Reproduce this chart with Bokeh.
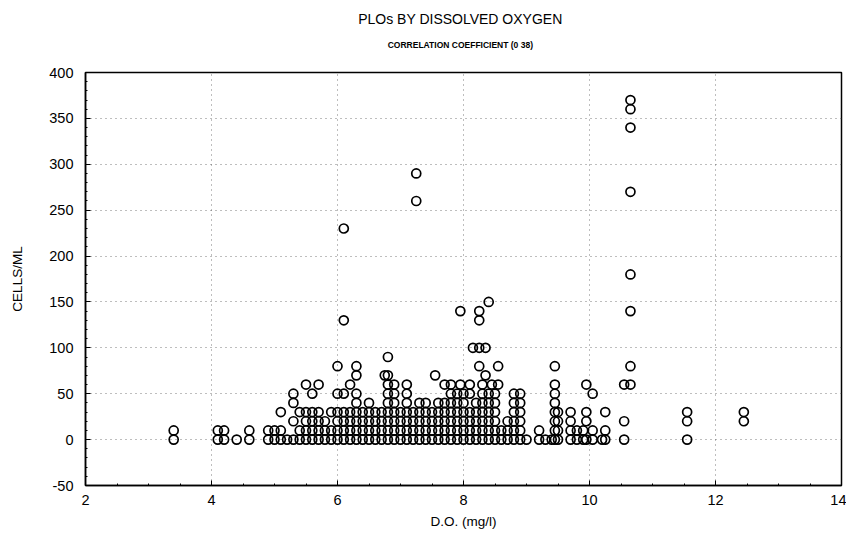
from bokeh.plotting import figure
from bokeh.models import FixedTicker, Range1d
from bokeh.layouts import column
from bokeh.core.properties import value
from bokeh.embed import file_html
from bokeh.resources import INLINE

# D.O. (mg/l) column positions and the CELLS/ML values observed at each
do_columns = [3.4, 4.1, 4.2, 4.4, 4.6, 4.9, 5.0, 5.1, 5.2, 5.3, 5.4, 5.5, 5.6, 5.7, 5.8, 5.9,
              6.0, 6.1, 6.2, 6.3, 6.4, 6.5, 6.6, 6.7, 6.75, 6.8, 6.9, 7.0, 7.1, 7.2, 7.25,
              7.3, 7.4, 7.5, 7.55, 7.6, 7.7, 7.8, 7.9, 7.95, 8.0, 8.1, 8.15, 8.2, 8.25,
              8.3, 8.35, 8.4, 8.45, 8.5, 8.55, 8.6, 8.7, 8.8, 8.9, 9.0, 9.2, 9.3, 9.4,
              9.45, 9.5, 9.7, 9.8, 9.9, 9.95, 10.05, 10.2, 10.25, 10.55, 10.65, 11.55, 12.45]
cells_by_column = [
    [0, 10], [0, 10], [0, 10], [0], [0, 10], [0, 10], [0, 10], [0, 10, 30], [0],
    [0, 20, 40, 50], [0, 10, 30], [0, 10, 20, 30, 60], [0, 10, 20, 30, 50],
    [0, 10, 20, 30, 60], [0, 10, 20], [0, 10, 30],
    [0, 10, 20, 30, 50, 80], [0, 10, 20, 30, 50, 130, 230], [0, 10, 20, 30, 60],
    [0, 10, 20, 30, 40, 50, 70, 80], [0, 10, 20, 30], [0, 10, 20, 30, 40], [0, 10, 20, 30],
    [0, 10, 20, 30], [70], [0, 10, 20, 30, 40, 50, 60, 70, 90], [0, 10, 20, 30, 40, 50, 60],
    [0, 10, 20, 30], [0, 10, 20, 30, 40, 50, 60], [0, 10, 20, 30], [260, 290],
    [0, 10, 20, 30, 40], [0, 10, 20, 30, 40], [0, 10, 20, 30], [70], [0, 10, 20, 30, 40],
    [0, 10, 20, 30, 40, 60], [0, 10, 20, 30, 40, 50, 60], [0, 10, 20, 30, 40, 50], [60, 140],
    [0, 10, 20, 30, 40, 50], [0, 10, 20, 30, 50, 60], [100], [0, 10, 20, 30, 40],
    [80, 100, 130, 140], [0, 10, 20, 30, 40, 50, 60], [70, 100], [0, 10, 20, 30, 40, 50, 150],
    [60], [0, 10, 20, 30, 40, 50], [60, 80], [0, 10], [0, 10, 20], [0, 10, 20, 30, 40, 50],
    [0, 10, 20, 30, 40, 50], [0], [0, 10], [0], [0],
    [0, 10, 20, 30, 40, 50, 60, 80], [0, 10, 20, 30], [0, 10, 20, 30], [0, 10], [0, 10],
    [0, 20, 30, 60], [0, 10, 50], [0], [0, 10, 30], [0, 20, 60],
    [60, 80, 140, 180, 270, 340, 360, 370], [0, 20, 30], [20, 30]]

x_ticks = [2, 4, 6, 8, 10, 12, 14]
y_ticks = [-50, 0, 50, 100, 150, 200, 250, 300, 350, 400]
y_tick_labels = ["-50", "0", "50", "100", "150", "200", "250", "300", "350", "400"]

title_text = "PLOs BY DISSOLVED OXYGEN"
subtitle_text = "CORRELATION COEFFICIENT (0 38)"
x_label = "D.O. (mg/l)"
y_label = "CELLS/ML"

xs, ys = [], []
for x, col in zip(do_columns, cells_by_column):
    for y in col:
        xs.append(x)
        ys.append(y)

FONT = "Liberation Sans"
W = 846
BORDER_L, BORDER_R = 85, 5
HEAD_H = 66

# ---- heading strip (title + subtitle), sharing the plot's horizontal frame ----
head = figure(width=W, height=HEAD_H, output_backend="svg", toolbar_location=None,
              x_range=Range1d(2, 14), y_range=Range1d(0, HEAD_H),
              x_axis_location=None, y_axis_location=None,
              min_border_left=BORDER_L, min_border_right=BORDER_R,
              min_border_top=0, min_border_bottom=0, outline_line_color=None,
              background_fill_color="white", border_fill_color="white")
head.grid.visible = False
cx = 7.95
head.text(x=[cx], y=[HEAD_H - 18], text=[title_text], text_align="center",
          text_baseline="middle", text_font=value(FONT), text_font_size="14px",
          text_color="black")
head.text(x=[cx], y=[HEAD_H - 44], text=[subtitle_text], text_align="center",
          text_baseline="middle", text_font=value(FONT), text_font_size="8.5px",
          text_font_style="bold", text_color="black")

# ---- scatter plot ----
p = figure(width=W, height=474, output_backend="svg", toolbar_location=None,
           x_range=Range1d(2, 14), y_range=Range1d(-50, 400),
           min_border_left=BORDER_L, min_border_right=BORDER_R,
           min_border_bottom=55, min_border_top=6,
           background_fill_color="white", border_fill_color="white")

p.scatter(xs, ys, marker="circle", size=9, fill_color=None, line_color="black", line_width=1.7)

p.xaxis.ticker = FixedTicker(ticks=x_ticks, minor_ticks=[v / 2 for v in range(4, 29)])
p.yaxis.ticker = FixedTicker(ticks=y_ticks, minor_ticks=list(range(-50, 401, 10)))
p.yaxis.major_label_overrides = {t: s for t, s in zip(y_ticks, y_tick_labels)}

for ax in (p.xaxis[0], p.yaxis[0]):
    ax.axis_line_color = "black"
    ax.axis_line_width = 1.5
    ax.major_tick_in = 5
    ax.major_tick_out = 0
    ax.minor_tick_in = 2
    ax.minor_tick_out = 0
    ax.major_tick_line_color = "black"
    ax.minor_tick_line_color = "black"
    ax.major_label_text_font = FONT
    ax.major_label_text_font_size = "14.5px"
    ax.major_label_text_color = "black"
    ax.axis_label_text_font = FONT
    ax.axis_label_text_font_size = "13.5px"
    ax.axis_label_text_font_style = "normal"
    ax.axis_label_text_color = "black"

p.xaxis.axis_label = x_label
p.yaxis.axis_label = y_label
p.xaxis.major_label_standoff = 9
p.xaxis.axis_label_standoff = 6
p.yaxis.major_label_standoff = 12
p.yaxis.axis_label_standoff = 21

p.outline_line_color = "black"
p.outline_line_width = 1.5
p.outline_line_alpha = 1.0

p.grid.grid_line_color = "#444444"
p.grid.grid_line_dash = "1 4"
p.grid.grid_line_width = 1
p.grid.grid_line_alpha = 0.7

layout = column(head, p, spacing=0)
open("out.html", "w").write(file_html(layout, INLINE))
